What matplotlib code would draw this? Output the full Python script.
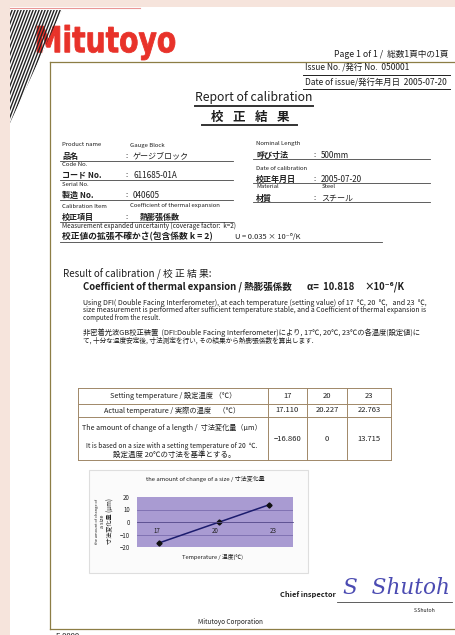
import numpy as np
import matplotlib
matplotlib.use('Agg')
import matplotlib.pyplot as plt
from matplotlib.textpath import TextPath
from matplotlib.font_manager import FontProperties
from matplotlib.patches import PathPatch, Polygon, Rectangle
from matplotlib.transforms import Affine2D

plt.rcParams['font.family'] = ['Noto Sans CJK JP', 'DejaVu Sans']

# ---- data ----
setting_temp = [17, 20, 23]
actual_temp = [17.110, 20.227, 22.763]
length_change = [-16.860, 0, 13.715]
chart_yticks = [-20, -10, 0, 10, 20]
alpha_value = 10.818
uncertainty = 0.035

left_en = ['Product name', 'Code No.', 'Serial No.', 'Calibration Item']
left_sub = ['Gauge Block', '', '', 'Coefficient of thermal expansion']
left_jp = ['品名', 'コード No.', '製造 No.', '校正項目']
left_val = ['ゲージブロック', '611685-01A', '040605', '熱膨張係数']
right_en = ['Nominal Length', 'Date of calibration', 'Material']
right_sub = ['', '', 'Steel']
right_jp = ['呼び寸法', '校正年月日', '材質']
right_val = ['500mm', '2005-07-20', 'スチール']

# ---- page ----
fig = plt.figure(figsize=(4.55, 6.35), dpi=100)
fig.patch.set_facecolor('#f6e4dc')
ax0 = fig.add_axes([0, 0, 1, 1])
ax0.set_xlim(0, 455)
ax0.set_ylim(635, 0)
ax0.axis('off')
renderer = fig.canvas.get_renderer()

ink = '#1e1e1e'
frame = '#8c7d45'


def put(x, y, s, size, w=None, **kw):
    # draw text, optionally squeezed/stretched to a target length in pixels
    kw.setdefault('va', 'center')
    kw.setdefault('color', ink)
    t = ax0.text(x, y, s, fontsize=size, **kw)
    if w:
        bb = t.get_window_extent(renderer)
        length = bb.height if kw.get('rotation') == 90 else bb.width
        t.set_fontsize(size * w / length)
    return t


# paper
ax0.add_patch(Rectangle((10, 7), 445, 628, facecolor='white', edgecolor='none'))
ax0.plot([10, 140], [7.5, 7.5], color='#e06a6a', lw=0.8, alpha=0.7)

# hatched triangle top left
tri = Polygon([[10, 10], [62, 10], [10, 123]], closed=True, facecolor='none', edgecolor='none')
ax0.add_patch(tri)
for x0 in np.arange(-40, 75, 3.0):
    ln, = ax0.plot([x0 + 50, x0], [0, 130], color='#222222', lw=1.0)
    ln.set_clip_path(tri)

# logo
fp = FontProperties(family='DejaVu Sans', weight='bold')
tp = TextPath((0, 0), 'Mitutoyo', size=40, prop=fp)
ext = tp.get_extents()
tr = Affine2D().translate(-ext.x0, -ext.y0).scale(138 / ext.width, -35 / ext.height).translate(37, 60)
ax0.add_patch(PathPatch(tr.transform_path(tp), facecolor='#e8322a', edgecolor='#e8322a', lw=0.6))

# frame of the certificate
ax0.plot([50, 455], [62, 62], color=frame, lw=0.9)
ax0.plot([50, 50], [62, 629], color=frame, lw=0.9)
ax0.plot([50, 455], [629, 629], color=frame, lw=0.9)

# header
put(448, 54, 'Page 1 of 1 /  総数1頁中の1頁', 5.5, w=115, ha='right')
put(305, 68, 'Issue No. /発行 No.  050001', 5.2, w=105)
ax0.plot([303, 450], [75, 75], color=ink, lw=0.7)
put(305, 83, 'Date of issue/発行年月日  2005-07-20', 5.2, w=143)
ax0.plot([303, 450], [89, 89], color=ink, lw=0.7)

put(254, 98, 'Report of calibration', 8, w=118, ha='center')
ax0.plot([195, 313], [106, 106], color='#333333', lw=1.4)
for i, ch in enumerate('校正結果'):
    put(217 + 22 * i, 117, ch, 9, ha='center', weight='bold')
ax0.plot([202, 297], [125, 125], color='#333333', lw=1.4)

# info block, left column
en_y = [145, 164, 184, 206]
for i in range(len(left_en)):
    put(62, en_y[i], left_en[i], 4.3)
    if left_sub[i]:
        put(130, en_y[i], left_sub[i], 4.3)
    put(62, en_y[i] + 11, left_jp[i], 5.8, weight='bold')
    put(125, en_y[i] + 11, ':', 5.5)
    vx = 140 if i == 3 else 133
    put(vx, en_y[i] + 11, left_val[i], 5.8, weight='bold' if i == 3 else 'normal')
    ax0.plot([60, 233], [en_y[i] + 15.5, en_y[i] + 15.5], color='#444444', lw=0.6)

# info block, right column
ren_y = [144, 168, 187]
for i in range(len(right_en)):
    put(256, ren_y[i], right_en[i], 4.3)
    if right_sub[i]:
        put(322, ren_y[i], right_sub[i], 4.3)
    put(256, ren_y[i] + 11, right_jp[i], 5.8, weight='bold')
    put(313, ren_y[i] + 11, ':', 5.5)
    put(321, ren_y[i] + 11, right_val[i], 5.8)
    ax0.plot([253, 430], [ren_y[i] + 15, ren_y[i] + 15], color='#444444', lw=0.6)

put(62, 226, 'Measurement expanded uncertainty (coverage factor:  k=2)', 4.3, w=172)
put(62, 237, '校正値の拡張不確かさ(包含係数 k = 2)', 5.8, w=150, weight='bold')
put(235, 237, 'U = %.3f × 10⁻⁶/K' % uncertainty, 5.2, w=66)
ax0.plot([60, 382], [242, 242], color='#444444', lw=0.6)

# result
put(63, 274, 'Result of calibration / 校 正 結 果:', 5.8, w=147)
head = put(83, 287, 'Coefficient of thermal expansion / 熱膨張係数', 7, w=210, weight='bold')
hs = head.get_fontsize()
put(307, 287, 'α=  %.3f' % alpha_value, hs, weight='bold')
put(364, 287, '×10⁻⁶/K', hs, weight='bold')

put(83, 303, 'Using DFI( Double Facing Interferometer), at each temperature (setting value) of 17  ℃, 20  ℃,   and 23  ℃,', 4.5, w=345)
put(83, 310.5, 'size measurement is performed after sufficient temperature stable, and a Coefficient of thermal expansion is', 4.5, w=347)
put(83, 318, 'computed from the result.', 4.5, w=77)
put(83, 333, '非密着光波GB校正装置  (DFI:Double Facing Interferometer)により, 17℃, 20℃, 23℃の各温度(設定値)に', 5, w=340)
put(83, 341, 'て, 十分な温度安定後, 寸法測定を行い, その結果から熱膨張係数を算出します.', 5, w=234)

# table
tcol = '#a08868'
tx = [78, 268, 307, 347, 391]
ty = [388, 404, 417, 460]
for y in ty:
    ax0.plot([tx[0], tx[-1]], [y, y], color=tcol, lw=0.7)
for x in tx:
    ax0.plot([x, x], [ty[0], ty[-1]], color=tcol, lw=0.7)
put(173, 396, 'Setting temperature / 設定温度 （℃）', 5, w=127, ha='center')
put(172, 410.5, 'Actual temperature / 実際の温度　（℃）', 5, w=137, ha='center')
put(172, 428, 'The amount of change of a length /  寸法変化量（μm）', 5, w=179, ha='center')
put(172, 446, 'It is based on a size with a setting temperature of 20  ℃.', 4.2, w=170, ha='center')
put(174, 455, '設定温度 20℃の寸法を基準とする。', 5.4, w=122, ha='center')
for j in range(3):
    cx = (tx[j + 1] + tx[j + 2]) / 2
    put(cx, 396, '%d' % setting_temp[j], 5.5, ha='center')
    put(cx, 410.5, '%.3f' % actual_temp[j], 5.5, ha='center')
    lab = '0' if length_change[j] == 0 else '%.3f' % length_change[j]
    put(cx, 439, lab.replace('-', '−'), 5.5, ha='center')

# chart box
ax0.add_patch(Rectangle((89, 470), 219, 103, facecolor='#fbfbfb', edgecolor='#dedede', lw=0.8))
put(205, 479, 'the amount of change of a size / 寸法変化量', 4.5, w=120, ha='center')
put(97, 521, 'the amount of change of', 3.8, w=44, ha='center', rotation=90)
put(103, 521, 'a size', 3.8, ha='center', rotation=90)
put(111, 521, '寸法変化量 (μm)', 4.2, w=46, ha='center', rotation=90)
put(213, 557, 'Temperature / 温度(℃)', 4.6, w=62, ha='center')

ax = fig.add_axes([137 / 455, 1 - 547 / 635, 156 / 455, 50 / 635])
ax.set_facecolor('#a99bd2')
ax.plot(actual_temp, length_change, color='#1c1c6e', lw=1.1, marker='D', ms=2.6,
        mfc='#111111', mec='#111111')
ax.set_xlim(16, 24)
ax.set_ylim(-20, 20)
ax.set_yticks(chart_yticks)
ax.set_xticks(setting_temp)
for v in chart_yticks[1:-1]:
    ax.axhline(v, color='#7a6cae', lw=0.6, zorder=0)
for s in ['top', 'right', 'left']:
    ax.spines[s].set_visible(False)
ax.spines['bottom'].set_position(('data', 0))
ax.spines['bottom'].set_color('#5a4e8e')
ax.spines['bottom'].set_linewidth(0.6)
ax.tick_params(axis='x', length=0, pad=3.5, labelsize=4.4, labelcolor=ink)
ax.tick_params(axis='y', length=0, pad=5, labelsize=4.4, labelcolor=ink)

# signature
put(280, 595, 'Chief inspector', 5, w=55, weight='bold')
put(343, 588, 'S  Shutoh', 13, w=107, family='DejaVu Serif', style='italic', color='#4b4bb2')
ax0.plot([337, 452], [602, 602], color='#444444', lw=0.6)
put(425, 610, 'S.Shutoh', 4.6, w=22, ha='center')
put(198, 622, 'Mitutoyo Corporation', 6.5, w=65)
put(55, 632, 'E-0000', 5.5, va='top')

plt.savefig('out.png', dpi=100)
